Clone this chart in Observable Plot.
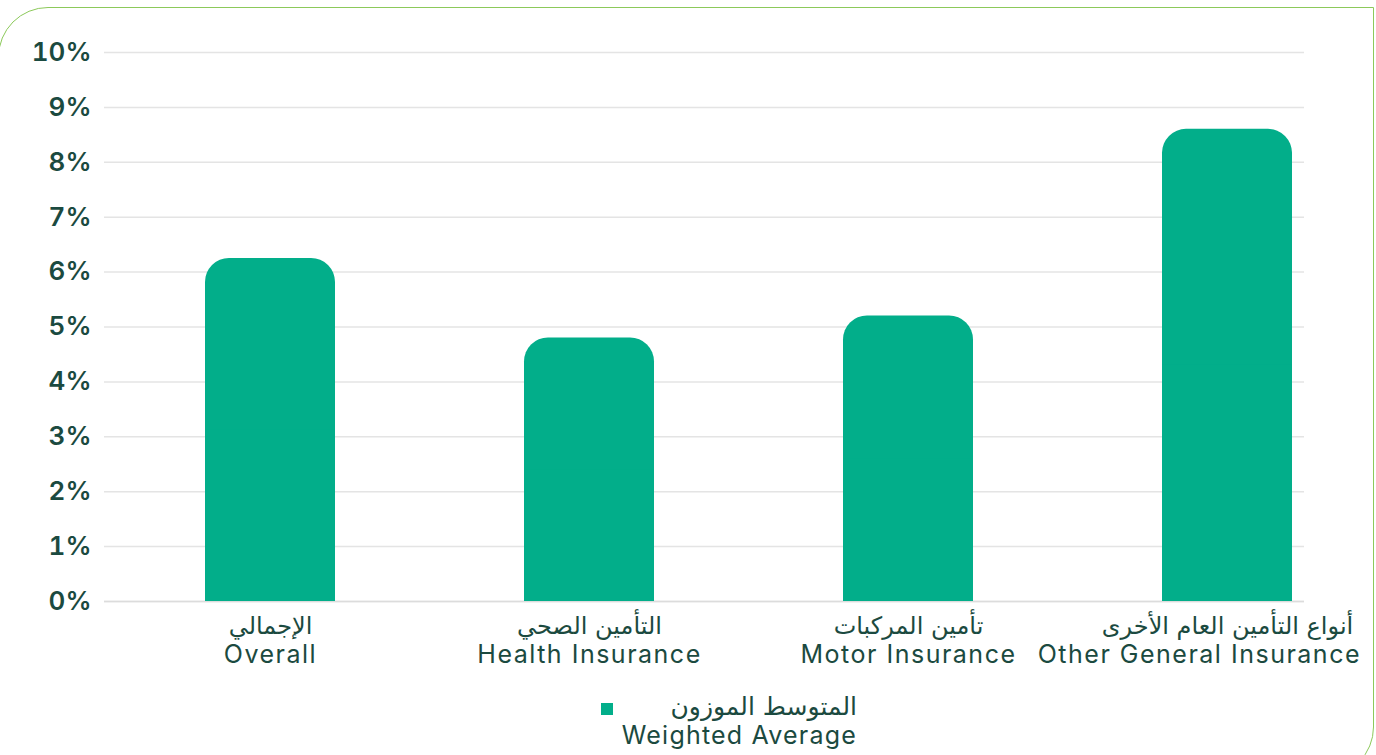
<!DOCTYPE html>
<html>
<head>
<meta charset="utf-8">
<script src="https://cdn.jsdelivr.net/npm/d3@7"></script>
<script src="https://cdn.jsdelivr.net/npm/@observablehq/plot@0.6"></script>
<style>
  html, body { margin: 0; padding: 0; background: #fff; width: 1376px; height: 755px; overflow: hidden; }
  #frame { position: absolute; left: -2px; top: 7px; width: 1376px; height: 770px; border: 1.5px solid #8cc95a; border-radius: 50px 0 50px 0; box-sizing: border-box; }
  #chart { position: absolute; left: 0; top: 0; }
  #legend { position: absolute; top: 692px; right: calc(1376px - 857px); text-align: right; font-family: Inter, "DejaVu Sans", sans-serif; font-size: 25px; color: #1b4a40; line-height: 29px; letter-spacing: 1.2px; }
  #legend .ar { font-family: "DejaVu Sans", sans-serif; font-size: 25px; letter-spacing: 0; }
  #swatch { position: absolute; left: 601px; top: 703px; width: 12px; height: 12px; background: #02ae8a; }
</style>
</head>
<body>
<div id="frame"></div>
<div id="chart"></div>
<div id="swatch"></div>
<div id="legend"><div class="ar">المتوسط الموزون</div><div>Weighted Average</div></div>
<script>
const categories = ["Overall", "Health Insurance", "Motor Insurance", "Other General Insurance"];
const categoriesAr = ["الإجمالي", "التأمين الصحي", "تأمين المركبات", "أنواع التأمين العام الأخرى"];
const values = [6.25, 4.8, 5.2, 8.6];
const yTicks = [0, 1, 2, 3, 4, 5, 6, 7, 8, 9, 10];

const data = categories.map((c, i) => ({cat: c, ar: categoriesAr[i], value: values[i]}));
const arOf = Object.fromEntries(categories.map((c, i) => [c, categoriesAr[i]]));
const color = "#02ae8a";
const ink = "#1b4a40";

const chart = Plot.plot({
  width: 1376,
  height: 680,
  marginTop: 52,
  marginBottom: 79,
  marginLeft: 104,
  marginRight: 72,
  style: {fontFamily: 'Inter, "DejaVu Sans", sans-serif', color: ink, background: "transparent"},
  x: {domain: categories, paddingInner: 0.5935, paddingOuter: 0.173, align: 0.889, label: null},
  y: {domain: [0, 10], label: null},
  marks: [
    Plot.gridY(yTicks, {stroke: "#e4e4e4", strokeOpacity: 1, strokeWidth: 1.5}),
    Plot.ruleY([0], {stroke: "#dcdcdc", strokeWidth: 1.5}),
    Plot.barY(data, {x: "cat", y: "value", fill: color, rx: 24}),
    Plot.barY(data, {x: "cat", y1: 0, y2: d => d.value / 2, fill: color}),
    Plot.axisY(yTicks, {tickSize: 0, tickPadding: 13, tickFormat: d => d + "%", fontSize: 26, fontWeight: 600, fill: ink}),
    Plot.axisX({tickSize: 0, tickPadding: 15, tickFormat: d => arOf[d], fontSize: 24, fontFamily: '"DejaVu Sans", sans-serif', fill: ink}),
    Plot.axisX({tickSize: 0, tickPadding: 44, tickFormat: d => d, fontSize: 25, fill: ink})
  ]
});
document.getElementById("chart").appendChild(chart);

// English category labels: wider tracking, and keep the last one inside the card
const groups = d3.select(chart).selectAll('g[aria-label="x-axis tick label"]').nodes();
const en = d3.select(groups[groups.length - 1]);
en.attr("letter-spacing", 1.5);
en.selectAll("text").each(function () {
  const b = this.getBBox();
  const m = this.getCTM();
  const right = m.e + b.x + b.width;
  if (right > 1361) d3.select(this).attr("dx", (+this.getAttribute("dx") || 0) - (right - 1361));
});
</script>
</body>
</html>
